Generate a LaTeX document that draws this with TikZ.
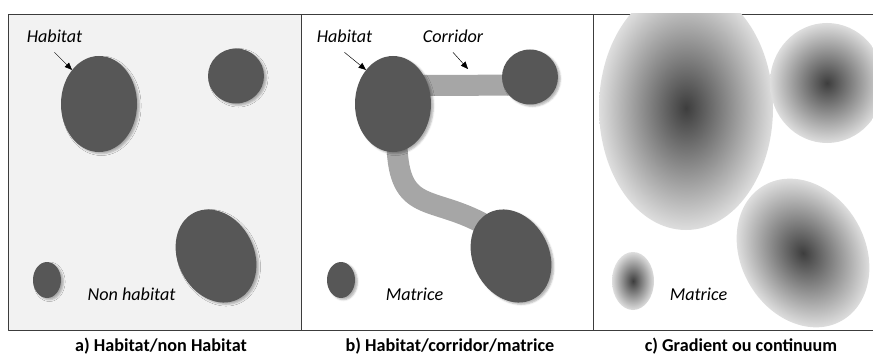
\documentclass[tikz,border=0pt]{standalone}
\usepackage{fontspec}
\setmainfont{Carlito}
\usetikzlibrary{arrows,shapes.geometric,backgrounds,shadows.blur}

\definecolor{patchgray}{RGB}{87,87,87}
\definecolor{corridorgray}{RGB}{166,166,166}
\definecolor{bggray}{RGB}{242,242,242}
\definecolor{framegray}{RGB}{60,60,60}
\newcommand{\px}{0.3mm}

\tikzset{
  frame/.style={draw=framegray,line width=0.8pt},
  patch/.style={ellipse,fill=patchgray,inner sep=0pt,
    blur shadow={shadow xshift=2pt,shadow yshift=-1.5pt,shadow blur radius=1.5pt,shadow opacity=30}},
  corridor/.style={draw=corridorgray,line width=21*\px,line cap=butt,
    shorten <=-2mm,shorten >=-2mm},
  lbl/.style={inner sep=0pt,anchor=base,font=\fontsize{15.5}{18}\selectfont\itshape},
  captxt/.style={inner sep=0pt,anchor=base,font=\fontsize{15.5}{18}\selectfont\bfseries},
  pointer/.style={->,line width=0.4pt,black},
  gradpatch/.style={inner color=black!76,outer color=black!13}
}

\begin{document}
\begin{tikzpicture}
			[line cap=round,line join=round,>=triangle 45,x=0.3mm,y=0.3mm]
			\useasboundingbox (0,0) rectangle (873,354);
			% panels
			\fill[bggray] (8,24) rectangle (301,340);
			\draw[frame] (8,24) rectangle (301,340);
			\draw[frame] (301,24) rectangle (593,340);
			\draw[frame] (873,340) -- (593,340) -- (593,24) -- (873,24);
			% a) habitat / non habitat
			\node[patch,minimum width=76*\px,minimum height=96*\px] (hA1) at (99,250) {};
			\node[patch,minimum width=56*\px,minimum height=55*\px] (hA2) at (236,278) {};
			\node[patch,rotate=27,minimum width=76*\px,minimum height=97*\px] (hA3) at (216,98) {};
			\node[patch,minimum width=28*\px,minimum height=36*\px] (hA4) at (47,74) {};
			\node[lbl] (habA) at (54.5,311) {Habitat};
			\node[lbl] (nonhabA) at (131.5,54) {Non habitat};
			\draw[pointer] ([yshift=-9*\px]habA.south) -- (hA1.north west);
			% b) habitat / corridor / matrice
			\node[patch,minimum width=76*\px,minimum height=96*\px] (hB1) at (393,250) {};
			\node[patch,minimum width=56*\px,minimum height=55*\px] (hB2) at (530,277) {};
			\node[patch,rotate=27,minimum width=76*\px,minimum height=97*\px] (hB3) at (511,98) {};
			\node[patch,minimum width=28*\px,minimum height=36*\px] (hB4) at (341,74) {};
			\begin{pgfonlayer}{background}
				\draw[corridor] (hB1.28) -- (hB2.197);
				\draw[corridor] (hB1.-85) .. controls +(2,-62) and +(-47,26) .. (hB3.106);
			\end{pgfonlayer}
			\node[lbl] (habB) at (344.5,311) {Habitat};
			\node[lbl] (corB) at (453,311) {Corridor};
			\node[lbl] (matB) at (414.5,54) {Matrice};
			\coordinate (corTip) at (468,285);
			\draw[pointer] ([yshift=-9*\px]habB.south) -- (hB1.north west);
			\draw[pointer] ([yshift=-9*\px]corB.south) -- (corTip);
			% c) gradient ou continuum
			\begin{scope}
				\clip (593,24) rectangle (873,340.6);
				\shade[gradpatch] (686,246) ellipse (87 and 122);
				\shade[gradpatch] (827,271) ellipse (57 and 60);
				\shade[gradpatch] (633,73) ellipse (21 and 29);
				\begin{scope}[transform canvas={rotate around={30:(803,101)}}]
					\shade[gradpatch] (803,101) ellipse (62 and 78);
				\end{scope}
			\end{scope}
			\node[lbl] (matC) at (698.5,54) {Matrice};
			% captions
			\node[captxt] (capA) at (161,3) {a) Habitat/non Habitat};
			\node[captxt] (capB) at (450,3) {b) Habitat/corridor/matrice};
			\node[captxt] (capC) at (741,3) {c) Gradient ou continuum};
		\end{tikzpicture}
\end{document}
